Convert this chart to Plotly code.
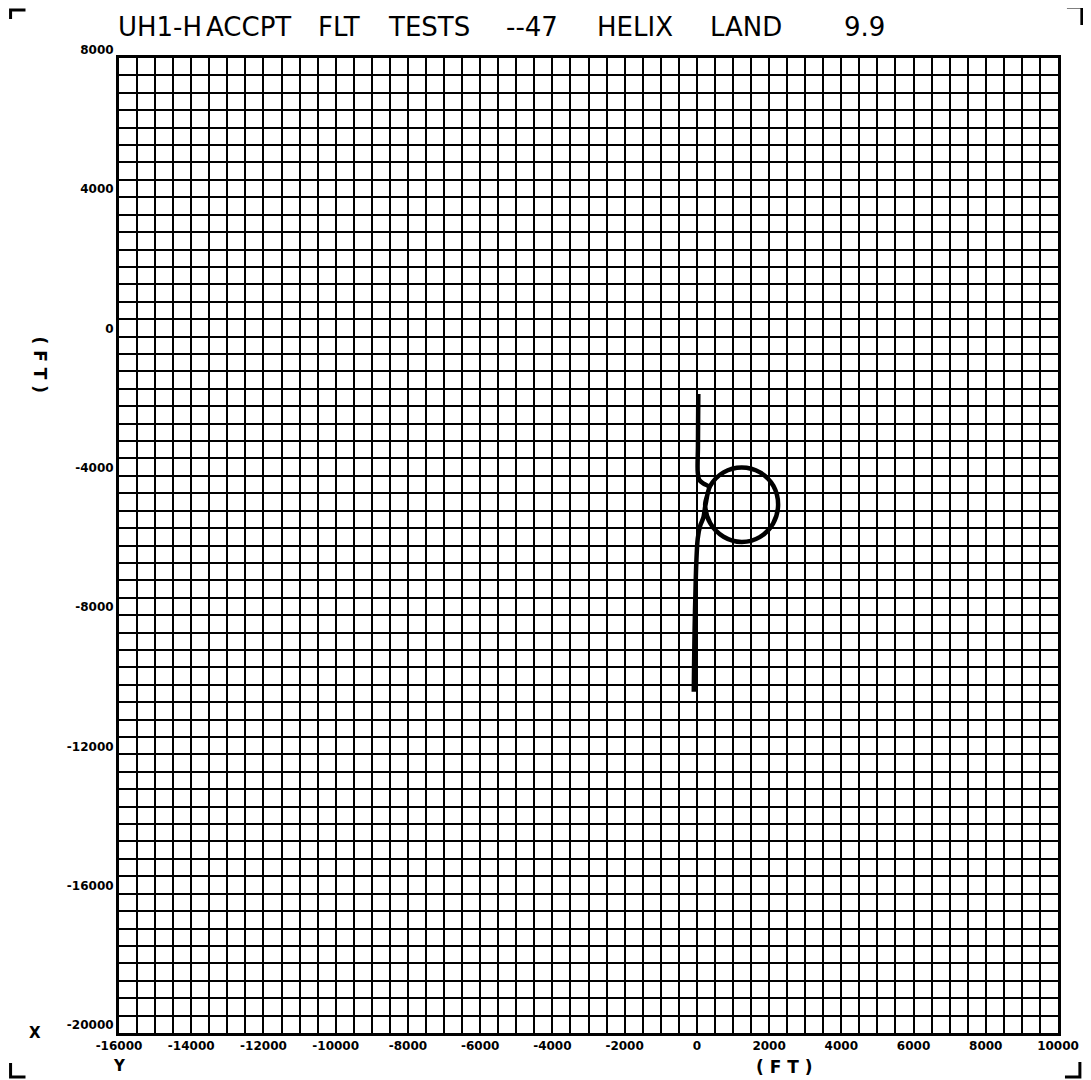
import plotly.graph_objects as go

# ---- data (feet) ----
x_ticks = [-16000, -14000, -12000, -10000, -8000, -6000, -4000, -2000, 0, 2000, 4000, 6000, 8000, 10000]
x_tick_text = ["-16000", "-14000", "-12000", "-10000", "-8000", "-6000", "-4000", "-2000", "0", "2000", "4000", "6000", "8000", "10000"]
y_ticks = [-20000, -16000, -12000, -8000, -4000, 0, 4000, 8000]
y_tick_text = ["-20000", "-16000", "-12000", "-8000", "-4000", "0", "4000", "8000"]

# ground track: Y (east) and X (north)
track_y = [40, 35, 30, 25, 70, 200, 330, 230, 370, 740, 1240, 1740, 2110, 2250, 2120, 1750, 1240, 740, 370, 240, 180, 90, 25, -15, -40, -60, -75, -85]
track_x = [-1650, -2400, -3200, -3900, -4120, -4230, -4320, -4830, -5360, -5750, -5900, -5760, -5370, -4830, -4290, -3900, -3760, -3900, -4290, -4830, -5200, -5440, -5800, -6500, -7400, -8300, -9300, -10200]

title_words = ["UH1-H", "ACCPT", "FLT", "TESTS", "--47", "HELIX", "LAND", "9.9"]
title_px = [116, 204, 317, 387, 506, 598, 711, 846]

# page offset of the browser's default body margin
OFF = 8
W, H = 1091 - OFF, 1080 - OFF
L, R, T, B = 119 - OFF, 1063 - OFF, 58 - OFF, 1033 - OFF


def px(xp):
    return (xp - OFF - L) / (R - L)


def py(yp):
    return (B - (yp - OFF)) / (B - T)


fig = go.Figure()
fig.add_trace(go.Scatter(
    x=track_y, y=track_x, mode="lines",
    line=dict(color="black", width=4.5, shape="spline", smoothing=0.9),
    hoverinfo="skip", showlegend=False))

tickfont = dict(family="DejaVu Sans", size=12, color="black", weight="bold")
fig.update_xaxes(
    range=[-16000, 10000], tickmode="array", tickvals=x_ticks, ticktext=x_tick_text,
    tickfont=tickfont, ticks="", showgrid=True, gridcolor="black", gridwidth=2.4,
    minor=dict(dtick=500, tick0=0, showgrid=True, gridcolor="black", gridwidth=2.4),
    showline=True, linecolor="black", linewidth=3, mirror=True, zeroline=False,
    ticklabelstandoff=0)
fig.update_yaxes(
    range=[-20000, 8000], tickmode="array", tickvals=y_ticks, ticktext=y_tick_text,
    tickfont=tickfont, ticks="", showgrid=True, gridcolor="black", gridwidth=2.4,
    minor=dict(dtick=500, tick0=0, showgrid=True, gridcolor="black", gridwidth=2.4),
    showline=True, linecolor="black", linewidth=3, mirror=True, zeroline=False,
    ticklabelshift=-8, ticklabelstandoff=0)

ann = []
for w, xp in zip(title_words, title_px):
    ann.append(dict(text=w, x=px(xp), y=py(27), xref="paper", yref="paper",
                    xanchor="left", yanchor="middle", showarrow=False,
                    font=dict(family="DejaVu Sans", size=26, color="black")))
labfont = dict(family="DejaVu Sans", size=17, color="black", weight="bold")
ann.append(dict(text="( F T )", x=px(40), y=py(365), xref="paper", yref="paper",
                xanchor="center", yanchor="middle",
                textangle=90, showarrow=False, font=labfont))
ann.append(dict(text="( F T )", x=px(788), y=py(1067), xref="paper", yref="paper",
                xanchor="center", yanchor="middle",
                showarrow=False, font=labfont))
ann.append(dict(text="X", x=px(35), y=py(1033), xref="paper", yref="paper",
                xanchor="center", yanchor="middle",
                showarrow=False, font=dict(family="DejaVu Sans", size=15, color="black", weight="bold")))
ann.append(dict(text="Y", x=px(120), y=py(1066), xref="paper", yref="paper",
                xanchor="center", yanchor="middle",
                showarrow=False, font=dict(family="DejaVu Sans", size=15, color="black", weight="bold")))

shapes = []
corners = [
    [(10, 19), (10, 10), (25, 10)],
    [(1072, 7), (1087, 7), (1087, 25)],
    [(10, 1063), (10, 1077), (25, 1077)],
    [(1070, 1077), (1085, 1077), (1085, 1062)],
]
for pts in corners:
    path = "M " + " L ".join(f"{px(a):.5f},{py(b):.5f}" for a, b in pts)
    shapes.append(dict(type="path", path=path, xref="paper", yref="paper",
                       line=dict(color="black", width=3)))

fig.update_layout(
    width=W, height=H, margin=dict(l=L, r=W - R, t=T, b=H - B),
    paper_bgcolor="white", plot_bgcolor="white",
    annotations=ann, shapes=shapes, showlegend=False)

fig.write_html("out.html")
